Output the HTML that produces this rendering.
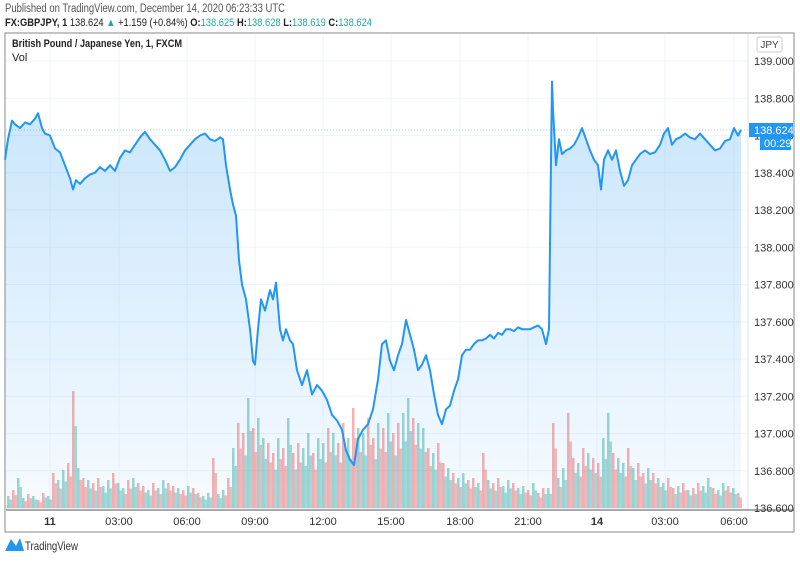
<!DOCTYPE html>
<html><head><meta charset="utf-8"><style>
body{margin:0;background:#fff;font-family:"Liberation Sans",sans-serif;}
svg text{font-family:"Liberation Sans",sans-serif;}
</style></head><body>
<svg id="c" width="800" height="559" viewBox="0 0 800 559" xmlns="http://www.w3.org/2000/svg">
<defs><linearGradient id="g" x1="0" y1="0" x2="0" y2="1"><stop offset="0" stop-color="#2196f3" stop-opacity="0.25"/><stop offset="1" stop-color="#2196f3" stop-opacity="0.04"/></linearGradient></defs>
<text x="5" y="12" font-size="11.5" fill="#555" textLength="280" lengthAdjust="spacingAndGlyphs">Published on TradingView.com, December 14, 2020 06:23:33 UTC</text>
<text x="5" y="26" font-size="11" fill="#222" textLength="367" lengthAdjust="spacingAndGlyphs"><tspan font-weight="bold">FX:GBPJPY, 1</tspan> 138.624 <tspan fill="#26a69a">▲</tspan> +1.159 (+0.84%) <tspan font-weight="bold">O:</tspan><tspan fill="#26a69a">138.625</tspan> <tspan font-weight="bold">H:</tspan><tspan fill="#26a69a">138.628</tspan> <tspan font-weight="bold">L:</tspan><tspan fill="#26a69a">138.619</tspan> <tspan font-weight="bold">C:</tspan><tspan fill="#26a69a">138.624</tspan></text>
<rect x="5" y="33" width="789" height="499" fill="#fff" stroke="#888"/>
<g id="grid"></g>
<g id="vol"></g>
<g id="price"></g>
<line x1="748" y1="34" x2="748" y2="510" stroke="#e0e3eb"/>
<line x1="6" y1="510" x2="794" y2="510" stroke="#555"/>
<g id="yax"></g>
<g id="xax"></g>
<text x="12" y="47" font-size="11" font-weight="bold" fill="#222" textLength="170" lengthAdjust="spacingAndGlyphs">British Pound / Japanese Yen, 1, FXCM</text>
<text x="12" y="61" font-size="11" fill="#222">Vol</text>
<rect x="757" y="37" width="25" height="15" rx="2" fill="#fff" stroke="#ccc"/>
<text x="769.5" y="48" font-size="10" fill="#444" text-anchor="middle">JPY</text>
<line x1="6" y1="130" x2="748" y2="130" stroke="#2196f3" stroke-opacity="0.4" stroke-dasharray="1,2"/>
<rect x="749" y="123" width="44" height="14" fill="#2196f3"/>
<text x="754" y="134" font-size="11" fill="#fff">138.624</text>
<rect x="760" y="137" width="31" height="13" fill="#2196f3"/>
<text x="764" y="147" font-size="11" fill="#fff">00:29</text>
<g><path d="M5 551 L11 539 L16 546 L20 538 L24 551 Z" fill="#2196f3"/><text x="25" y="550" font-size="12" fill="#333" textLength="53" lengthAdjust="spacingAndGlyphs">TradingView</text></g>
</svg>
<script>
const priceTicks=[139.0,138.8,138.6,138.4,138.2,138.0,137.8,137.6,137.4,137.2,137.0,136.8,136.6];
const timeLabels=["11","03:00","06:00","09:00","12:00","15:00","18:00","21:00","14","03:00","06:00"];
const timeLabelBars=[45,114,182,250,318,386,455,523,592,660,729];
const bars=[0,3,7,10,15,20,25,30,33,37,40,45,50,55,60,65,68,71,75,80,85,90,95,100,105,110,115,120,125,130,135,140,145,150,155,160,165,170,175,180,185,190,195,200,205,210,215,218,221,225,228,231,234,237,241,245,248,250,253,256,260,265,268,271,275,278,281,285,288,292,297,302,307,312,317,322,327,332,337,341,345,349,353,358,363,368,373,377,381,385,389,393,397,401,405,409,413,417,421,425,429,433,437,441,445,449,453,457,461,465,469,473,477,481,485,489,493,497,501,505,509,513,517,521,525,529,533,537,541,544,546,547,548,551,554,557,561,565,569,573,577,581,585,589,593,596,599,603,607,611,615,619,623,627,631,635,640,645,650,655,659,663,667,671,675,680,685,690,695,700,705,710,715,720,725,729,733,736];
const prices=[138.47,138.58,138.68,138.66,138.64,138.67,138.66,138.69,138.72,138.64,138.61,138.60,138.53,138.51,138.44,138.37,138.31,138.36,138.34,138.37,138.39,138.40,138.43,138.41,138.44,138.41,138.48,138.52,138.51,138.55,138.59,138.62,138.58,138.55,138.52,138.47,138.41,138.43,138.47,138.52,138.55,138.58,138.60,138.61,138.58,138.57,138.59,138.58,138.44,138.31,138.23,138.17,137.93,137.80,137.72,137.56,137.39,137.37,137.56,137.72,137.66,137.77,137.72,137.81,137.56,137.50,137.56,137.50,137.48,137.34,137.26,137.34,137.21,137.26,137.23,137.18,137.10,137.07,137.02,136.91,136.86,136.83,136.97,137.02,137.05,137.13,137.29,137.48,137.50,137.39,137.34,137.42,137.48,137.61,137.53,137.45,137.34,137.37,137.42,137.34,137.21,137.10,137.05,137.13,137.15,137.23,137.29,137.42,137.45,137.45,137.48,137.50,137.50,137.51,137.53,137.51,137.54,137.53,137.56,137.56,137.55,137.57,137.56,137.56,137.56,137.57,137.58,137.56,137.48,137.56,138.47,138.89,138.74,138.44,138.58,138.50,138.52,138.53,138.55,138.59,138.64,138.58,138.52,138.47,138.44,138.31,138.47,138.52,138.47,138.52,138.41,138.33,138.36,138.44,138.47,138.50,138.52,138.50,138.51,138.55,138.61,138.64,138.55,138.58,138.59,138.61,138.59,138.58,138.61,138.58,138.55,138.52,138.53,138.57,138.58,138.64,138.60,138.63];
const volumes=[12,18,30,10,14,12,8,15,12,35,28,38,45,117,40,30,28,25,30,22,28,35,25,20,28,30,25,22,18,25,20,28,25,22,20,18,22,20,15,12,15,50,14,18,30,60,85,75,110,80,90,70,65,55,70,60,90,55,65,60,75,55,70,65,80,75,65,85,70,100,80,75,90,70,85,80,95,75,85,95,110,90,85,80,60,55,65,45,40,35,30,35,28,30,25,55,28,25,30,22,28,25,20,22,18,25,15,20,20,85,30,40,95,50,45,60,55,50,45,70,95,55,50,45,60,40,45,35,40,35,30,25,30,20,22,25,18,20,25,22,30,20,18,25,22,20,15];
const volUp=[1,0,1,1,0,1,0,0,1,0,1,1,0,0,1,0,1,0,0,1];
const NS="http://www.w3.org/2000/svg";
function xScale(b){return 5+b;}
function yScale(p){return 61+(139-p)*186.25;}
function vScale(v){return 508-v;}
function mk(t,a,p){const e=document.createElementNS(NS,t);for(const k in a)e.setAttribute(k,a[k]);p.appendChild(e);return e;}
const grid=document.getElementById('grid'),yax=document.getElementById('yax'),xax=document.getElementById('xax');
priceTicks.forEach(p=>{const y=yScale(p);
 const l=mk('line',{x1:6,x2:748,y1:y,y2:y,stroke:'#f0f3fa'},grid);
 
 
 const t=mk('text',{x:754,y:y+4,'font-size':11,fill:'#333'},yax);t.textContent=p.toFixed(3);
 
 });
timeLabels.forEach((s,i)=>{const x=xScale(timeLabelBars[i]);
 const l=mk('line',{x1:x,x2:x,y1:34,y2:510,stroke:'#f0f3fa'},grid);
 
 
 const t=mk('text',{x:x,y:525,'font-size':11,fill:'#333','text-anchor':'middle','font-weight':(s==='14'||s==='11')?'bold':'normal'},xax);t.textContent=s;
 
 });
const vol=document.getElementById('vol');
volumes.forEach((v,i)=>{const x=xScale(2+i*5);
 const r=mk('rect',{x:x,y:vScale(v),width:2.5,height:v,fill:volUp[i%volUp.length]?'rgba(38,166,154,0.45)':'rgba(239,83,80,0.45)'},vol);
 
 
 const r2=mk('rect',{x:x+2.5,y:vScale(v*0.7),width:2.5,height:v*0.7,fill:volUp[(i+3)%volUp.length]?'rgba(38,166,154,0.4)':'rgba(239,83,80,0.4)'},vol);
 
 });
const pg=document.getElementById('price');
let d='';bars.forEach((b,i)=>{d+=(i?'L':'M')+xScale(b).toFixed(1)+' '+yScale(prices[i]).toFixed(1);});
const area=mk('path',{d:d+'L'+xScale(bars[bars.length-1])+' 509L'+xScale(bars[0])+' 509Z',fill:'url(#g)'},pg);


const line=mk('path',{d:d,fill:'none',stroke:'#2196f3','stroke-width':2,'stroke-linejoin':'round'},pg);


</script>
</body></html>
